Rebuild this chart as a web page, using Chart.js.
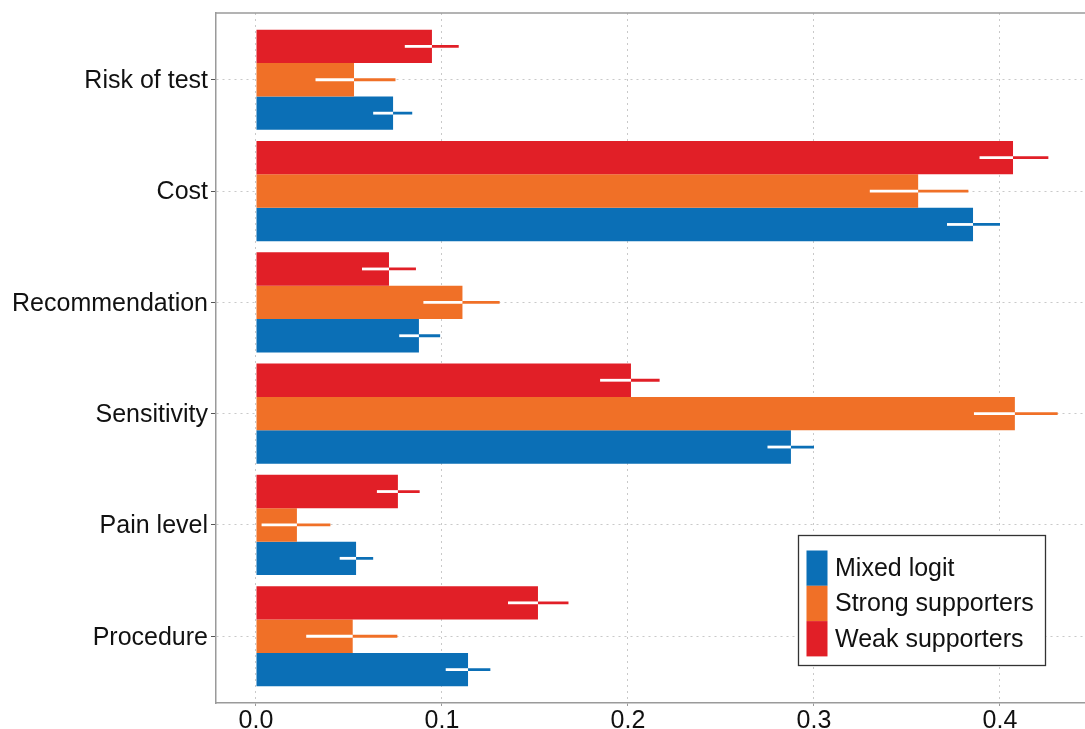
<!DOCTYPE html>
<html>
<head>
<meta charset="utf-8">
<title>Attribute importance</title>
<script src="https://cdn.jsdelivr.net/npm/chart.js"></script>
<style>
  html, body { margin: 0; padding: 0; background: #ffffff; }
  #wrap { width: 1085px; height: 729px; overflow: hidden; }
</style>
</head>
<body>
<div id="wrap"><canvas id="chart" width="1085" height="729"></canvas></div>
<script>
// Attributes, listed top to bottom
const categories = ['Risk of test', 'Cost', 'Recommendation', 'Sensitivity', 'Pain level', 'Procedure'];
const xTicks = [0, 0.1, 0.2, 0.3, 0.4];

// Relative importance estimates and their intervals
const mixedLogit = [0.0737, 0.3855, 0.0876, 0.2876, 0.0538, 0.1140];
const mixedLow   = [0.0630, 0.3715, 0.0770, 0.2750, 0.0450, 0.1020];
const mixedHigh  = [0.0840, 0.4000, 0.0990, 0.3000, 0.0630, 0.1260];

const strongSupporters = [0.0527, 0.3560, 0.1110, 0.4080, 0.0220, 0.0520];
const strongLow        = [0.0320, 0.3300, 0.0900, 0.3860, 0.0030, 0.0270];
const strongHigh       = [0.0750, 0.3830, 0.1310, 0.4310, 0.0400, 0.0760];

const weakSupporters = [0.0946, 0.4070, 0.0715, 0.2016, 0.0763, 0.1516];
const weakLow        = [0.0800, 0.3890, 0.0570, 0.1850, 0.0650, 0.1355];
const weakHigh       = [0.1090, 0.4260, 0.0860, 0.2170, 0.0880, 0.1680];

const COLORS = { mixed: '#0b6fb6', strong: '#f07027', weak: '#e11f27' };
const FONT = '"Liberation Sans", Arial, Helvetica, sans-serif';

function points(vals) {
  return vals.map((v, i) => ({ y: i, x: v }));
}

// Error bars: white inside the bar, series colour outside it
const errorBars = {
  id: 'errorBars',
  afterDatasetsDraw(chart) {
    const ctx = chart.ctx;
    const xs = chart.scales.x;
    chart.data.datasets.forEach((ds, di) => {
      const meta = chart.getDatasetMeta(di);
      if (meta.hidden) return;
      meta.data.forEach((bar, i) => {
        const lo = xs.getPixelForValue(ds.errLow[i]);
        const hi = xs.getPixelForValue(ds.errHigh[i]);
        const end = bar.x;
        ctx.save();
        ctx.lineWidth = 2.8;
        ctx.lineCap = 'butt';
        ctx.strokeStyle = ds.backgroundColor;
        ctx.beginPath();
        ctx.moveTo(lo, bar.y);
        ctx.lineTo(hi, bar.y);
        ctx.stroke();
        ctx.strokeStyle = '#ffffff';
        ctx.beginPath();
        ctx.moveTo(lo, bar.y);
        ctx.lineTo(Math.min(hi, end), bar.y);
        ctx.stroke();
        ctx.restore();
      });
    });
  }
};

// Top edge of the panel frame
const panelFrame = {
  id: 'panelFrame',
  beforeDatasetsDraw(chart) {
    const { ctx, chartArea } = chart;
    ctx.save();
    ctx.strokeStyle = '#9a9a9a';
    ctx.lineWidth = 1.5;
    ctx.beginPath();
    ctx.moveTo(chartArea.left, chartArea.top);
    ctx.lineTo(chartArea.right, chartArea.top);
    ctx.stroke();
    ctx.restore();
  }
};

// Boxed legend in the lower right of the panel
const boxLegend = {
  id: 'boxLegend',
  afterDraw(chart) {
    const ctx = chart.ctx;
    const entries = [
      { label: 'Mixed logit', color: COLORS.mixed },
      { label: 'Strong supporters', color: COLORS.strong },
      { label: 'Weak supporters', color: COLORS.weak }
    ];
    const bx = 798, by = 535, bw = 247, bh = 130;
    ctx.save();
    ctx.fillStyle = '#ffffff';
    ctx.fillRect(bx, by, bw, bh);
    ctx.strokeStyle = '#333333';
    ctx.lineWidth = 1.3;
    ctx.strokeRect(bx + 0.5, by + 0.5, bw, bh);
    const sw = 21, sh = 35.3, sx = 806.5, sy = 550.5;
    ctx.font = '25px ' + FONT;
    ctx.textBaseline = 'middle';
    ctx.textAlign = 'left';
    entries.forEach((e, k) => {
      ctx.fillStyle = e.color;
      ctx.fillRect(sx, sy + k * sh, sw, sh);
      ctx.fillStyle = '#111111';
      ctx.fillText(e.label, 835, sy + k * sh + sh / 2 + 1);
    });
    ctx.restore();
  }
};

new Chart(document.getElementById('chart'), {
  type: 'bar',
  data: {
    datasets: [
      { label: 'Weak supporters', data: points(weakSupporters), errLow: weakLow, errHigh: weakHigh,
        backgroundColor: COLORS.weak },
      { label: 'Strong supporters', data: points(strongSupporters), errLow: strongLow, errHigh: strongHigh,
        backgroundColor: COLORS.strong },
      { label: 'Mixed logit', data: points(mixedLogit), errLow: mixedLow, errHigh: mixedHigh,
        backgroundColor: COLORS.mixed }
    ]
  },
  options: {
    indexAxis: 'y',
    responsive: false,
    animation: false,
    events: [],
    layout: { padding: { top: 13, left: 0, right: 0, bottom: 0 } },
    datasets: { bar: { categoryPercentage: 0.9, barPercentage: 1.0, borderWidth: 0 } },
    plugins: {
      legend: { display: false },
      tooltip: { enabled: false }
    },
    scales: {
      y: {
        type: 'linear',
        reverse: true,
        offset: false,
        min: -0.6,
        max: categories.length - 0.4,
        afterBuildTicks(scale) {
          scale.ticks = categories.map((c, i) => ({ value: i }));
        },
        afterFit(scale) {
          scale.width = 216;
          scale.paddingTop = 0;
          scale.paddingBottom = 0;
        },
        ticks: {
          callback: (v) => categories[v],
          color: '#111111',
          font: { family: FONT, size: 25 },
          padding: 3,
          labelOffset: 1.5
        },
        grid: {
          offset: false,
          color: '#c9c9c9',
          lineWidth: 1,
          tickColor: '#555555',
          tickBorderDash: [],
          tickLength: 5
        },
        border: { display: true, color: '#9a9a9a', width: 1.5, dash: [2, 4] }
      },
      x: {
        type: 'linear',
        min: -0.0215,
        max: 0.4457,
        afterBuildTicks(scale) {
          scale.ticks = xTicks.map(v => ({ value: v }));
        },
        afterFit(scale) { scale.height = 26; },
        ticks: {
          callback: (v) => v.toFixed(1),
          color: '#111111',
          font: { family: FONT, size: 25 },
          padding: 0,
          maxRotation: 0
        },
        grid: {
          color: '#c9c9c9',
          lineWidth: 1,
          tickColor: '#9a9a9a',
          tickBorderDash: [],
          tickLength: 3
        },
        border: { display: true, color: '#9a9a9a', width: 1.5, dash: [2, 4] }
      }
    }
  },
  plugins: [panelFrame, errorBars, boxLegend]
});
</script>
</body>
</html>
